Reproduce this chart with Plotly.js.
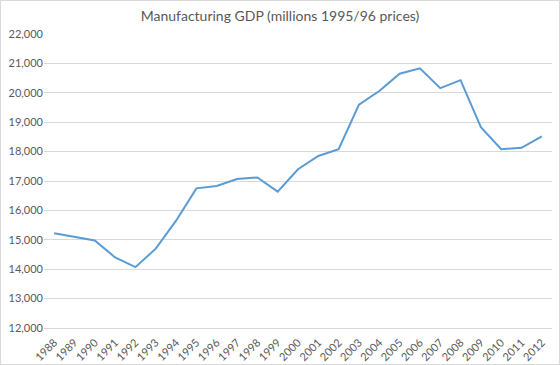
<!DOCTYPE html>
<html>
<head>
<meta charset="utf-8">
<script src="https://cdn.plot.ly/plotly-3.0.1.min.js"></script>
<style>
html,body{margin:0;padding:0;background:#fff;}
#frame{position:absolute;left:0;top:0;width:558px;height:363px;border:1px solid #d9d9d9;}
#chart{position:absolute;left:0;top:0;width:560px;height:365px;}
</style>
</head>
<body>
<div id="chart"></div>
<div id="frame"></div>
<script>
const years = ["1988","1989","1990","1991","1992","1993","1994","1995","1996","1997","1998","1999","2000","2001","2002","2003","2004","2005","2006","2007","2008","2009","2010","2011","2012"];
const gdp = [15220,15100,14980,14400,14070,14700,15650,16750,16830,17070,17120,16640,17400,17850,18080,19600,20060,20650,20830,20160,20430,18830,18080,18130,18520];
const yTicks = [12000,13000,14000,15000,16000,17000,18000,19000,20000,21000,22000];

Plotly.newPlot('chart', [{
  x: years,
  y: gdp,
  type: 'scatter',
  mode: 'lines',
  line: {color: '#5b9bd5', width: 2},
  hoverinfo: 'skip'
}], {
  width: 560,
  height: 365,
  margin: {l: 44, r: 8, t: 34, b: 37},
  paper_bgcolor: '#fff',
  plot_bgcolor: '#fff',
  font: {family: 'Lato, "Open Sans", sans-serif', color: '#595959', size: 11},
  title: {text: 'Manufacturing GDP (millions 1995/96 prices)', x: 0.5, xanchor: 'center', y: 0.955, yanchor: 'middle',
    font: {size: 14, color: '#595959', family: 'Lato, "Open Sans", sans-serif'}},
  showlegend: false,
  xaxis: {
    type: 'category',
    range: [-0.5, years.length - 0.5],
    tickangle: -45,
    showgrid: false,
    showline: true,
    linecolor: '#d9d9d9',
    linewidth: 1,
    ticks: 'outside',
    ticklen: 3,
    tickcolor: 'rgba(0,0,0,0)',
    tickfont: {size: 11, color: '#595959'},
    fixedrange: true
  },
  yaxis: {
    range: [12000, 22000],
    tickvals: yTicks,
    tickformat: ',d',
    showgrid: true,
    gridcolor: '#d9d9d9',
    gridwidth: 1,
    zeroline: false,
    showline: false,
    ticks: '',
    tickfont: {size: 11, color: '#595959'},
    fixedrange: true
  }
}, {displayModeBar: false, staticPlot: true});
</script>
</body>
</html>
